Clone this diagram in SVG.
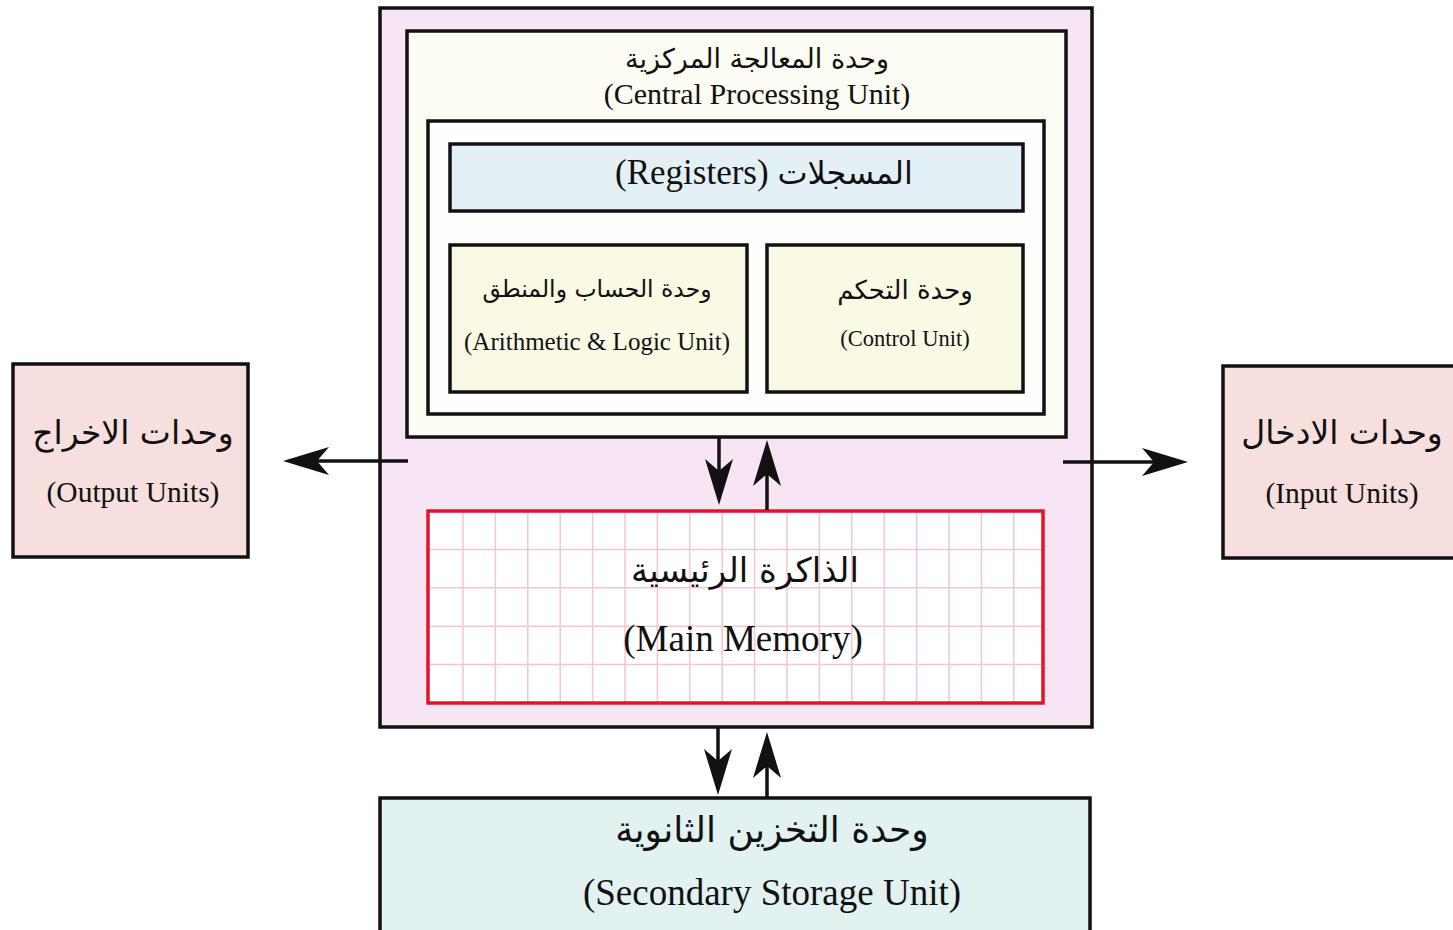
<svg xmlns="http://www.w3.org/2000/svg" width="1453" height="930" viewBox="0 0 1453 930">
  <defs>
    <style>
      .box { stroke: #111; stroke-width: 3.5; }
      .en { font-family: "Liberation Serif", "DejaVu Serif", serif; fill: #111; text-anchor: middle; }
      .ar { font-family: "DejaVu Sans", "Noto Sans", sans-serif; fill: #111; text-anchor: middle; }
      .wire { stroke: #111; stroke-width: 3.5; fill: none; }
      .grid line { stroke: #f4c6d2; stroke-width: 1.5; }
    </style>
    <marker id="head" markerUnits="userSpaceOnUse" viewBox="-40 -16 52 32" refX="0" refY="0" markerWidth="52" markerHeight="32" orient="auto">
      <path d="M10,0 L-36,-14 L-24,0 L-36,14 Z" fill="#111"/>
    </marker>
  </defs>

  <rect width="1453" height="930" fill="#ffffff"/>

  <!-- system enclosure: CPU + main memory -->
  <g id="system">
    <rect class="box" x="380" y="8" width="712" height="719" fill="#f8e5f3"/>
  </g>

  <!-- central processing unit -->
  <g id="cpu">
    <rect class="box" x="407" y="31" width="659" height="406" fill="#fdfdf4"/>
    <text class="ar" x="757" y="68" font-size="27">وحدة المعالجة المركزية</text>
    <text class="en" x="757" y="104" font-size="30">(Central Processing Unit)</text>
    <rect class="box" x="428" y="121" width="616" height="293" fill="#fefefd"/>
  </g>

  <g id="registers">
    <rect class="box" x="450" y="144" width="573" height="67" fill="#e3f1f7"/>
    <text class="en" x="764" y="184" font-size="35">(Registers) <tspan font-family="DejaVu Sans, sans-serif" font-size="32">المسجلات</tspan></text>
  </g>

  <g id="alu">
    <rect class="box" x="450" y="245" width="297" height="147" fill="#fafae4"/>
    <text class="ar" x="597" y="297" font-size="23.5">وحدة الحساب والمنطق</text>
    <text class="en" x="597" y="350" font-size="25">(Arithmetic &amp; Logic Unit)</text>
  </g>

  <g id="control-unit">
    <rect class="box" x="767" y="245" width="256" height="147" fill="#fafae4"/>
    <text class="ar" x="905" y="299" font-size="26">وحدة التحكم</text>
    <text class="en" x="905" y="346" font-size="22.5">(Control Unit)</text>
  </g>

  <!-- main memory with cell grid -->
  <g id="main-memory">
    <rect x="428" y="511" width="615" height="192" fill="#ffffff"/>
    <g class="grid">
      <line x1="463" y1="511" x2="463" y2="703"/>
      <line x1="495.4" y1="511" x2="495.4" y2="703"/>
      <line x1="527.8" y1="511" x2="527.8" y2="703"/>
      <line x1="560.2" y1="511" x2="560.2" y2="703"/>
      <line x1="592.6" y1="511" x2="592.6" y2="703"/>
      <line x1="625" y1="511" x2="625" y2="703"/>
      <line x1="657.4" y1="511" x2="657.4" y2="703"/>
      <line x1="689.8" y1="511" x2="689.8" y2="703"/>
      <line x1="722.2" y1="511" x2="722.2" y2="703"/>
      <line x1="754.6" y1="511" x2="754.6" y2="703"/>
      <line x1="787" y1="511" x2="787" y2="703"/>
      <line x1="819.4" y1="511" x2="819.4" y2="703"/>
      <line x1="851.8" y1="511" x2="851.8" y2="703"/>
      <line x1="884.2" y1="511" x2="884.2" y2="703"/>
      <line x1="916.6" y1="511" x2="916.6" y2="703"/>
      <line x1="949" y1="511" x2="949" y2="703"/>
      <line x1="981.4" y1="511" x2="981.4" y2="703"/>
      <line x1="1013.8" y1="511" x2="1013.8" y2="703"/>
      <line x1="428" y1="549.4" x2="1043" y2="549.4"/>
      <line x1="428" y1="587.8" x2="1043" y2="587.8"/>
      <line x1="428" y1="626.2" x2="1043" y2="626.2"/>
      <line x1="428" y1="664.6" x2="1043" y2="664.6"/>
    </g>
    <rect x="428" y="511" width="615" height="192" fill="none" stroke="#e3142a" stroke-width="3.5"/>
    <text class="ar" x="745" y="582" font-size="34">الذاكرة الرئيسية</text>
    <text class="en" x="743" y="651" font-size="37">(Main Memory)</text>
  </g>

  <g id="output-units">
    <rect class="box" x="13" y="364" width="235" height="193" fill="#f6dfdd"/>
    <text class="ar" x="133" y="444" font-size="33">وحدات الاخراج</text>
    <text class="en" x="133" y="502" font-size="29.5">(Output Units)</text>
  </g>

  <g id="input-units">
    <rect class="box" x="1223" y="366" width="240" height="192" fill="#f6dfdd"/>
    <text class="ar" x="1342" y="444" font-size="33">وحدات الادخال</text>
    <text class="en" x="1342" y="503" font-size="29.5">(Input Units)</text>
  </g>

  <g id="secondary-storage">
    <rect class="box" x="380" y="798" width="710" height="140" fill="#e1f2f1"/>
    <text class="ar" x="772" y="842" font-size="36">وحدة التخزين الثانوية</text>
    <text class="en" x="772" y="905" font-size="37">(Secondary Storage Unit)</text>
  </g>

  <!-- connectors -->
  <g id="connectors">
    <line class="wire" x1="408" y1="461" x2="293" y2="461" marker-end="url(#head)"/>
    <line class="wire" x1="1063" y1="462" x2="1178" y2="462" marker-end="url(#head)"/>
    <line class="wire" x1="719" y1="437" x2="719" y2="495" marker-end="url(#head)"/>
    <line class="wire" x1="767" y1="510" x2="767" y2="450" marker-end="url(#head)"/>
    <line class="wire" x1="718" y1="727" x2="718" y2="785" marker-end="url(#head)"/>
    <line class="wire" x1="767" y1="798" x2="767" y2="742" marker-end="url(#head)"/>
  </g>
</svg>
